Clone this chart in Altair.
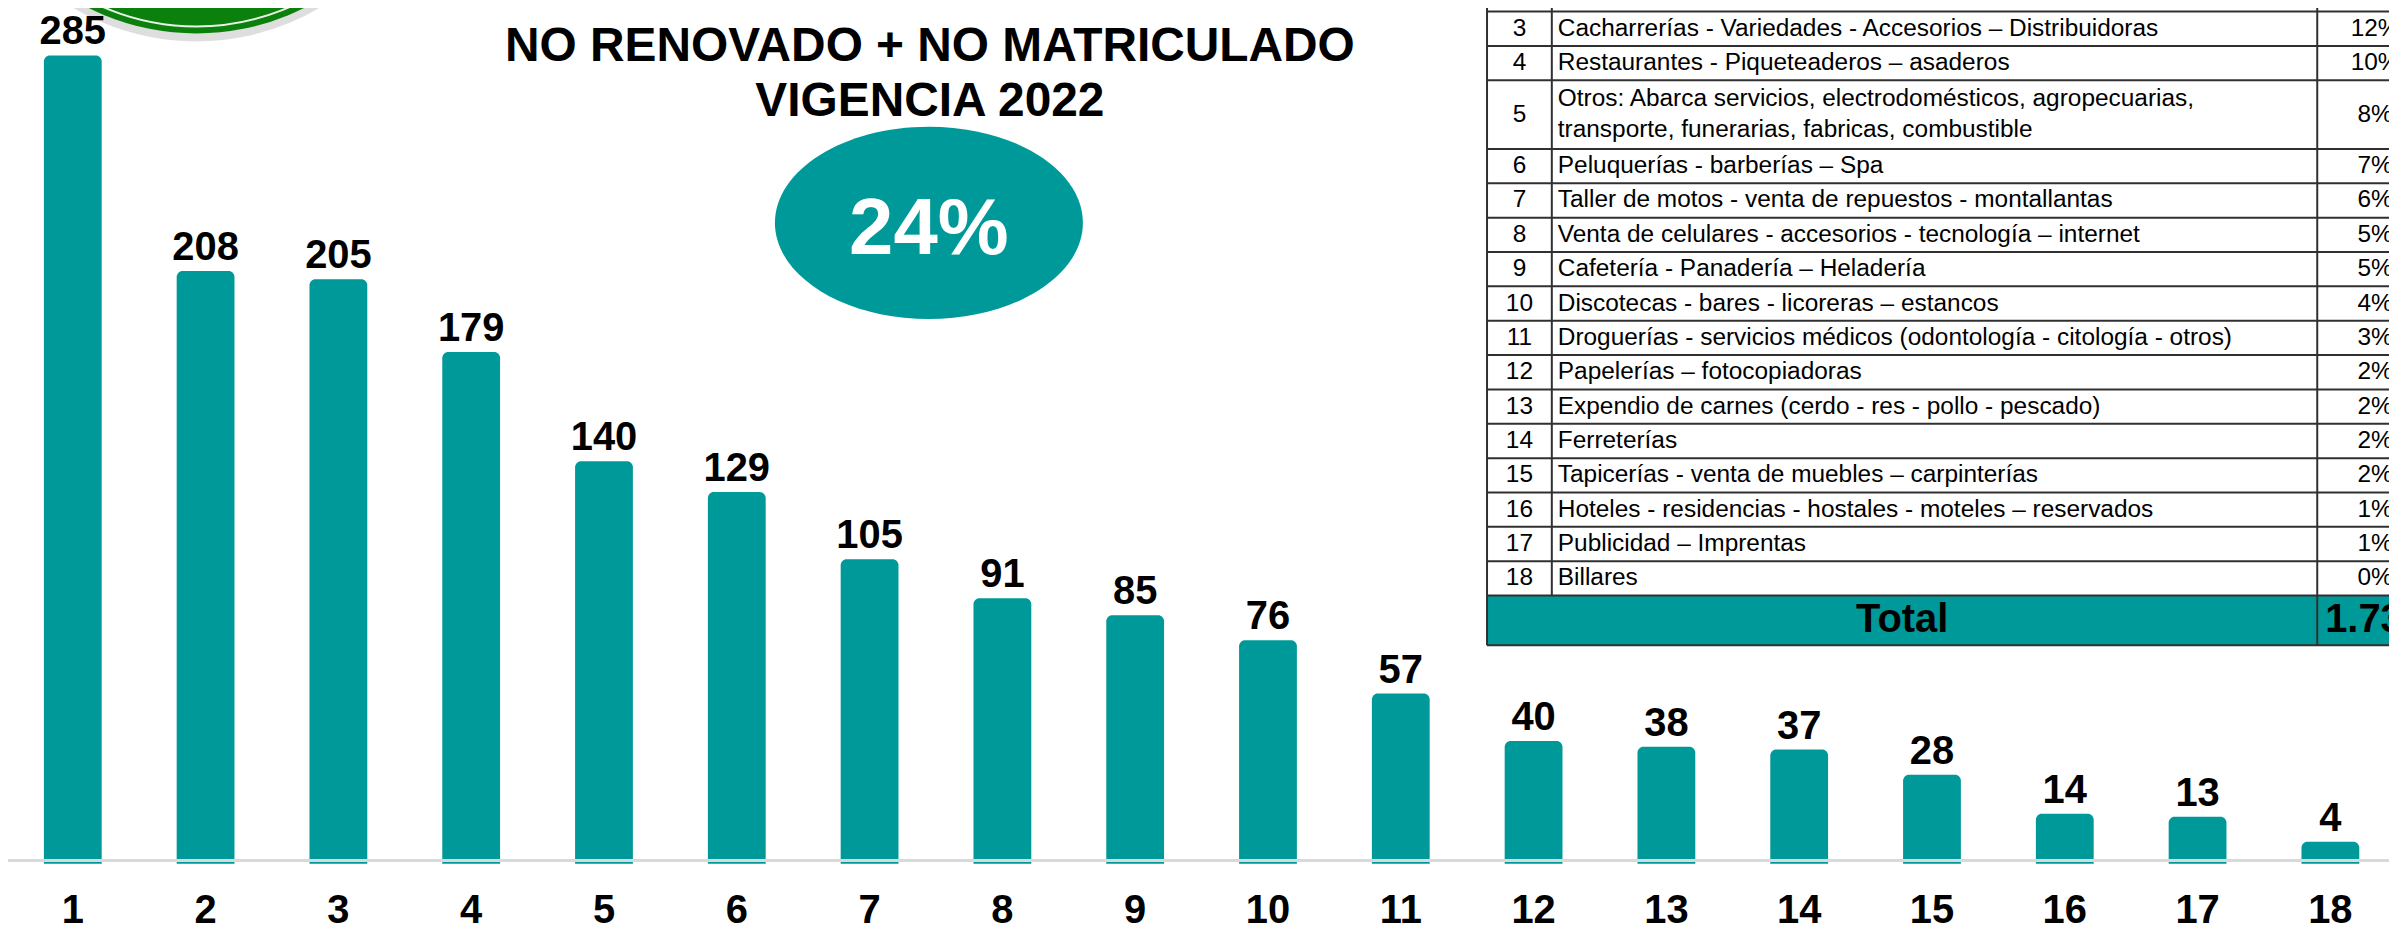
import altair as alt
import pandas as pd

# ---------------- data ----------------
BAR_POS = list(range(1, 19))
BAR_VALUES = [285, 208, 205, 179, 140, 129, 105, 91, 85, 76, 57, 40, 38, 37, 28, 14, 13, 4]

TITLE_LINES = ["CONSOLIDADO POR SECTOR ECONÓMICO",
               "NO RENOVADO + NO MATRICULADO",
               "VIGENCIA 2022"]
BADGE_TEXT = "24%"

ROW_NUMS = list(range(2, 19))
SECTORS = [
    "Supermercados - Tiendas - Autoservicios – minimercados",
    "Cacharrerías - Variedades - Accesorios – Distribuidoras",
    "Restaurantes - Piqueteaderos – asaderos",
    "Otros: Abarca servicios, electrodomésticos, agropecuarias,\ntransporte, funerarias, fabricas, combustible",
    "Peluquerías - barberías – Spa",
    "Taller de motos - venta de repuestos - montallantas",
    "Venta de celulares - accesorios - tecnología – internet",
    "Cafetería - Panadería – Heladería",
    "Discotecas - bares - licoreras – estancos",
    "Droguerías - servicios médicos (odontología - citología - otros)",
    "Papelerías – fotocopiadoras",
    "Expendio de carnes (cerdo - res - pollo - pescado)",
    "Ferreterías",
    "Tapicerías - venta de muebles – carpinterías",
    "Hoteles - residencias - hostales - moteles – reservados",
    "Publicidad – Imprentas",
    "Billares",
]
PCTS = ["12%", "12%", "10%", "8%", "7%", "6%", "5%", "5%", "4%", "3%",
        "2%", "2%", "2%", "2%", "1%", "1%", "0%"]
TOTAL_LABEL = "Total"
TOTAL_VALUE = "1.734"

# ---------------- layout / style ----------------
W, H = 2389, 857
FONT = "Liberation Sans"
TEAL = "#009999"
LINE = "#303030"

Y_MIN, Y_MAX = -3.8, 301.4
AXIS_LINE = -2.7

# table layout (plot px horizontally, row units vertically)
T_LEFT, T_NUMSEP, T_PCTSEP, T_RIGHT = 1484, 1549, 2317, 2433
ROW_PX = 34.47
U_TOP = -2 / ROW_PX
U_BOT = U_TOP + H / ROW_PX
TOTAL_SPAN = 1.45
LINE_H = 31

# ---------------- bars ----------------
bars_df = pd.DataFrame({"pos": BAR_POS, "value": BAR_VALUES})
yscale = alt.Scale(domain=[Y_MIN, Y_MAX], nice=False, zero=False)
xscale = alt.Scale(paddingInner=0.5647, paddingOuter=0.247, align=0.547)

xaxis = alt.Axis(title=None, domain=False, ticks=False, tickSize=0, grid=False,
                 labelFont=FONT, labelFontSize=40, labelFontWeight="bold",
                 labelColor="black", labelPadding=59, labelBaseline="alphabetic",
                 labelAngle=0)

base = alt.Chart(bars_df).encode(
    x=alt.X("pos:O", scale=xscale, axis=xaxis),
    y=alt.Y("value:Q", scale=yscale, axis=None),
)
bars = base.mark_bar(color=TEAL, cornerRadiusTopLeft=6, cornerRadiusTopRight=6).encode(
    y2=alt.datum(Y_MIN)
)
labels = base.mark_text(font=FONT, fontSize=40, fontWeight="bold", color="black",
                        baseline="alphabetic", dy=-11).encode(text="value:Q")
axis_rule = alt.Chart(pd.DataFrame({"v": [AXIS_LINE]})).mark_rule(
    color="#d9d9d9", strokeWidth=3).encode(y=alt.Y("v:Q", scale=yscale, axis=None))

main = alt.layer(bars, labels, axis_rule)

# ---------------- table ----------------
nlines = [s.count("\n") + 1 for s in SECTORS]
spans = [2 if n > 1 else 1 for n in nlines]
tops = []
u = -1.0
for s in spans:
    tops.append(u)
    u += s
total_top = u
total_bot = total_top + TOTAL_SPAN

tdf = pd.DataFrame({"num": ROW_NUMS, "sector": SECTORS, "pct": PCTS,
                    "top": tops, "span": spans, "nl": nlines})
tdf["mid"] = tdf["top"] + tdf["span"] / 2
tdf["ty"] = tdf["mid"] - (tdf["nl"] - 1) * LINE_H / (2 * ROW_PX)
tdf["xn"] = (T_LEFT + T_NUMSEP) / 2
tdf["xs"] = T_NUMSEP + 6
tdf["xp"] = (T_PCTSEP + T_RIGHT) / 2

TX = alt.Scale(domain=[0, W], nice=False, zero=False)
TY = alt.Scale(domain=[U_TOP, U_BOT], nice=False, zero=False, reverse=True)

hdf = pd.DataFrame({"u": tops + [total_top, total_bot]})
hdf["x1"] = T_LEFT
hdf["x2"] = T_RIGHT
vdf = pd.DataFrame({"x": [T_LEFT, T_NUMSEP, T_PCTSEP, T_RIGHT],
                    "u1": [tops[0]] * 4,
                    "u2": [total_bot, total_top, total_bot, total_bot]})
totdf = pd.DataFrame({"x1": [T_LEFT], "x2": [T_RIGHT], "u1": [total_top], "u2": [total_bot],
                      "um": [total_top + TOTAL_SPAN / 2],
                      "xl": [(T_LEFT + T_PCTSEP) / 2], "xv": [(T_PCTSEP + T_RIGHT) / 2],
                      "label": [TOTAL_LABEL], "value": [TOTAL_VALUE]})

total_rect = alt.Chart(totdf).mark_rect(color=TEAL).encode(
    x=alt.X("x1:Q", scale=TX, axis=None), x2="x2:Q",
    y=alt.Y("u1:Q", scale=TY, axis=None), y2="u2:Q")
hrule = alt.Chart(hdf).mark_rule(color=LINE, strokeWidth=2).encode(
    x=alt.X("x1:Q", scale=TX, axis=None), x2="x2:Q",
    y=alt.Y("u:Q", scale=TY, axis=None))
vrule = alt.Chart(vdf).mark_rule(color=LINE, strokeWidth=2).encode(
    x=alt.X("x:Q", scale=TX, axis=None),
    y=alt.Y("u1:Q", scale=TY, axis=None), y2="u2:Q")
num_text = alt.Chart(tdf).mark_text(font=FONT, fontSize=24.5, color="black",
                                    align="center", baseline="middle").encode(
    x=alt.X("xn:Q", scale=TX, axis=None), y=alt.Y("mid:Q", scale=TY, axis=None),
    text="num:N")
sector_text = alt.Chart(tdf).mark_text(font=FONT, fontSize=24.5, color="black",
                                       align="left", baseline="middle",
                                       lineBreak="\n", lineHeight=LINE_H).encode(
    x=alt.X("xs:Q", scale=TX, axis=None), y=alt.Y("ty:Q", scale=TY, axis=None),
    text="sector:N")
pct_text = alt.Chart(tdf).mark_text(font=FONT, fontSize=24.5, color="black",
                                    align="center", baseline="middle").encode(
    x=alt.X("xp:Q", scale=TX, axis=None), y=alt.Y("mid:Q", scale=TY, axis=None),
    text="pct:N")
total_label = alt.Chart(totdf).mark_text(font=FONT, fontSize=40, fontWeight="bold",
                                         color="black", align="center", baseline="middle").encode(
    x=alt.X("xl:Q", scale=TX, axis=None), y=alt.Y("um:Q", scale=TY, axis=None),
    text="label:N")
total_value = alt.Chart(totdf).mark_text(font=FONT, fontSize=40, fontWeight="bold",
                                         color="black", align="center", baseline="middle").encode(
    x=alt.X("xv:Q", scale=TX, axis=None), y=alt.Y("um:Q", scale=TY, axis=None),
    text="value:N")

table = alt.layer(total_rect, hrule, vrule, num_text, sector_text, pct_text,
                  total_label, total_value)

# ---------------- decorations ----------------
one = pd.DataFrame({"k": [0]})
GREEN_R = 241
GX, GY = 189, -217
shadow = alt.Chart(one).mark_point(shape="circle", filled=True, opacity=0.45,
                                   color="#b5b5b5", size=(2 * (GREEN_R + 2)) ** 2).encode(
    x=alt.value(GX), y=alt.value(GY + 6))
green = alt.Chart(one).mark_point(shape="circle", filled=True, opacity=1,
                                  color="#0c800c", size=(2 * GREEN_R) ** 2).encode(
    x=alt.value(GX), y=alt.value(GY))
ring = alt.Chart(one).mark_point(shape="circle", filled=False, opacity=1,
                                 color="#e8f3e8", strokeWidth=2,
                                 size=(2 * (GREEN_R - 7)) ** 2).encode(
    x=alt.value(GX), y=alt.value(GY))

title_layers = []
for i, line in enumerate(TITLE_LINES):
    title_layers.append(
        alt.Chart(pd.DataFrame({"t": [line]})).mark_text(
            font=FONT, fontSize=48, fontWeight="bold", color="black",
            align="center", baseline="alphabetic").encode(
            x=alt.value(925), y=alt.value(-3 + 55 * i), text="t:N"))

ER = 193 / 309
K = 0.5523
ELLIPSE = (f"M1,0 C1,{K*ER:.4f} {K},{ER:.4f} 0,{ER:.4f} "
           f"C{-K},{ER:.4f} -1,{K*ER:.4f} -1,0 "
           f"C-1,{-K*ER:.4f} {-K},{-ER:.4f} 0,{-ER:.4f} "
           f"C{K},{-ER:.4f} 1,{-K*ER:.4f} 1,0 Z")
ellipse = alt.Chart(one).mark_point(shape=ELLIPSE, filled=True, opacity=1, color=TEAL,
                                    size=309 ** 2).encode(
    x=alt.value(924), y=alt.value(214))
badge = alt.Chart(pd.DataFrame({"t": [BADGE_TEXT]})).mark_text(
    font=FONT, fontSize=80, fontWeight="bold", color="white",
    align="center", baseline="alphabetic").encode(
    x=alt.value(924), y=alt.value(245), text="t:N")

chart = alt.layer(
    shadow, green, ring, *title_layers, ellipse, badge, main, table
).resolve_scale(
    x="independent", y="independent"
).properties(
    width=W, height=H,
    padding={"left": 0, "top": 0, "right": 0, "bottom": 60},
    autosize=alt.AutoSizeParams(type="none"),
    background="white",
).configure_view(stroke=None)

chart.save("out.html", embed_options={"renderer": "svg", "actions": False})
